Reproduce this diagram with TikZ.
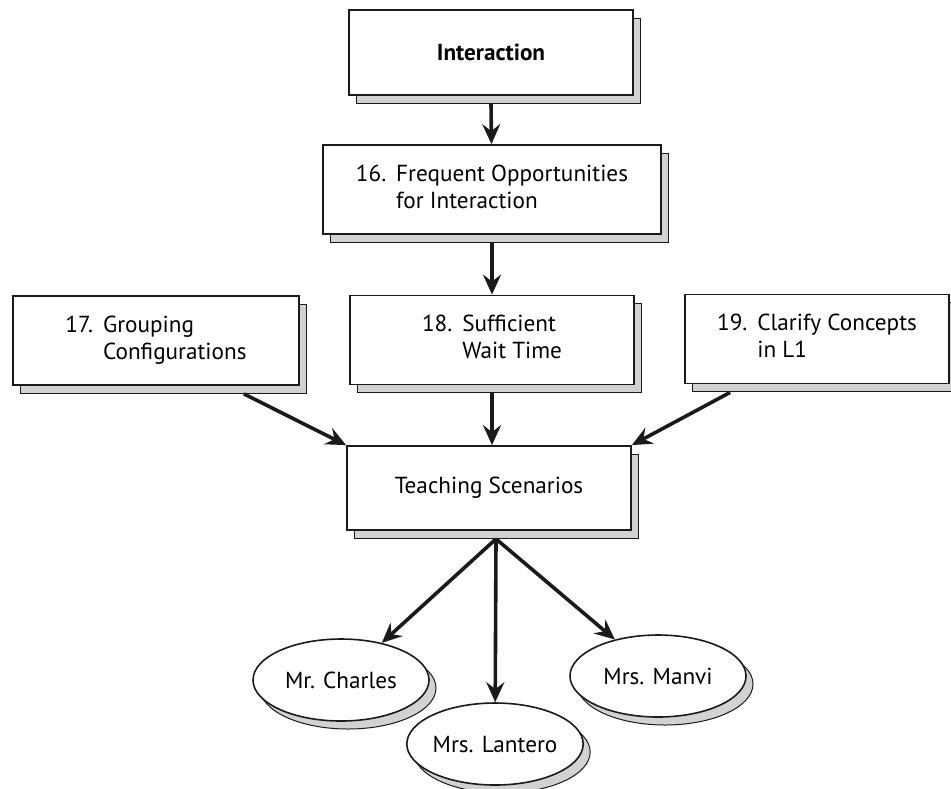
\documentclass[tikz,border=0pt]{standalone}
\usepackage{fontspec}
\setmainfont{PT Sans}
\usepackage{tikz}
\usetikzlibrary{positioning, arrows.meta, shapes.geometric, shadows, calc}
\definecolor{cShd}{HTML}{D2D2D2}
\definecolor{cLine}{HTML}{1A1A1A}

\newcommand{\boxtext}[3]{%
  \begin{tabular}{@{}l@{\hspace{5pt}}l@{}}#1 & #2\\ & #3\end{tabular}}

\tikzset{
  boxshadow/.style={drop shadow={shadow xshift=3.5pt, shadow yshift=-4pt,
      fill=cShd, draw=cLine, line width=0.5pt, opacity=1}},
  topicbox/.style={rectangle, draw=cLine, line width=0.9pt, fill=white,
      minimum width=142pt, minimum height=44.5pt, inner sep=0pt,
      align=center, boxshadow},
  teacher/.style={ellipse, draw=cLine, line width=0.8pt, fill=white,
      minimum width=88pt, minimum height=41pt, inner sep=0pt, boxshadow},
  arr/.style={draw=cLine, line width=1.8pt,
      -{Stealth[length=10pt, width=9pt, inset=3.5pt]}},
}

\begin{document}
\begin{tikzpicture}[x=0.5pt, y=-0.5pt, font=\fontsize{11.6}{13.5}\selectfont]
  \useasboundingbox (0,0) rectangle (951,788);

  % boxes
  \node[topicbox, minimum height=42.5pt] (inter) at (491,52.5) {\bfseries Interaction};
  \node[topicbox, minimum width=169pt] (b16) at (492,189.5)
    {\boxtext{16.}{Frequent Opportunities}{for Interaction}};
  \node[topicbox, minimum width=143pt] (b17) at (156,340.5)
    {\boxtext{17.}{Grouping}{Configurations}};
  \node[topicbox] (b18) at (492,340)
    {\boxtext{18.}{Sufficient}{Wait Time}};
  \node[topicbox, minimum width=132pt] (b19) at (817,339)
    {\boxtext{19.}{Clarify Concepts}{in L1}};
  \node[topicbox, minimum height=42pt] (teach) at (489,488) {Teaching Scenarios};

  % teachers
  \foreach \n/\x/\y/\t in {charles/341/680/Mr. Charles,
                           lantero/495/744/Mrs. Lantero,
                           manvi/658/676/Mrs. Manvi}{
    \node[teacher] (\n) at (\x,\y) {\t};
  }

  % arrows
  \coordinate (hub) at ([xshift=3.5pt, yshift=-4pt]teach.south);
  \draw[arr] ([yshift=-4pt]inter.south) -- (b16);
  \draw[arr] ([yshift=-4pt]b16.south) -- (b16.south |- b18.north);
  \draw[arr] ([xshift=-28pt, yshift=-4pt]b17.south east) -- (teach.north west);
  \draw[arr] ([yshift=-4pt]b18.south) -- (b18.south |- teach.north);
  \draw[arr] ([xshift=23pt, yshift=-4pt]b19.south west) -- (teach.north east);
  \foreach \n in {charles, lantero, manvi}
    \draw[arr] (hub) -- (\n);
\end{tikzpicture}
\end{document}
